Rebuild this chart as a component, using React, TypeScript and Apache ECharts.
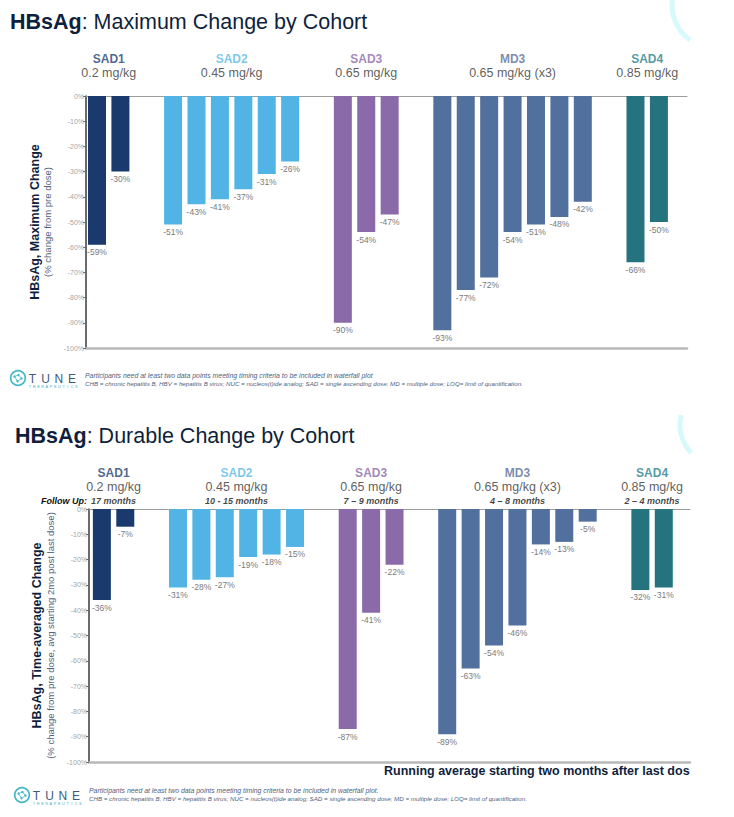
import React, { useEffect, useRef } from 'react';
import * as echarts from 'echarts';

// ---------------- data ----------------
const cohorts = ['SAD1', 'SAD2', 'SAD3', 'MD3', 'SAD4'];
const doses = ['0.2 mg/kg', '0.45 mg/kg', '0.65 mg/kg', '0.65 mg/kg (x3)', '0.85 mg/kg'];
const followUp = ['17 months', '10 - 15 months', '7 – 9 months', '4 – 8 months', '2 – 4 months'];
const barColors = ['#1a3a6e', '#51b4e4', '#8a6aa8', '#52709e', '#24737f'];
const headColors = ['#1d3f74', '#5bbae6', '#8a6aa8', '#5a6f9a', '#27808b'];

const maxChange = [
  [-59, -30],
  [-51, -43, -41, -37, -31, -26],
  [-90, -54, -47],
  [-93, -77, -72, -54, -51, -48, -42],
  [-66, -50],
];
const durableChange = [
  [-36, -7],
  [-31, -28, -27, -19, -18, -15],
  [-87, -41, -22],
  [-89, -63, -54, -46, -14, -13, -5],
  [-32, -31],
];

const titles = [
  ['HBsAg', ': Maximum Change by Cohort'],
  ['HBsAg', ': Durable Change by Cohort'],
];
const yNames = [
  ['HBsAg, Maximum Change', '(% change from pre dose)'],
  ['HBsAg, Time-averaged Change', '(% change from pre dose, avg starting 2mo post last dose)'],
];
const footnotes = [
  [
    'Participants need at least two data points meeting timing criteria to be included in waterfall plot',
    'CHB = chronic hepatitis B, HBV = hepatitis B virus; NUC = nucleos(t)ide analog; SAD = single ascending dose; MD = multiple dose; LOQ= limit of quantification.',
  ],
  [
    'Participants need at least two data points meeting timing criteria to be included in waterfall plot.',
    'CHB = chronic hepatitis B, HBV = hepatitis B virus; NUC = nucleos(t)ide analog; SAD = single ascending dose; MD = multiple dose; LOQ= limit of quantification.',
  ],
];
const runningNote = 'Running average starting two months after last dose';

// ---------------- layout ----------------
const FONT = '"Liberation Sans", Arial, Helvetica, sans-serif';
const NAVY = '#0f1f3d';
const GROUP_STEP = 2.25;

function slotPositions(groups: number[][]): number[][] {
  let pos = 0;
  return groups.map((g) => {
    const xs = g.map((_, i) => pos + i);
    pos += g.length - 1 + GROUP_STEP;
    return xs;
  });
}

const panels = [
  {
    data: maxChange,
    grid: { left: 86, top: 96, width: 601, height: 252 },
    xMin: -0.47,
    xMax: 25.2,
    nameGap: 25,
    lhA: 14,
    lhB: 11,
    headDist: 16,
    withFollow: false,
  },
  {
    data: durableChange,
    grid: { left: 89, top: 509, width: 601, height: 253 },
    xMin: -0.55,
    xMax: 25.12,
    nameGap: 22,
    lhA: 16,
    lhB: 12,
    headDist: 2,
    withFollow: true,
  },
];

function logo(cx: number, cy: number): any[] {
  const teal = '#44b7c7';
  const els: any[] = [
    { type: 'circle', shape: { cx, cy, r: 7.3 }, style: { fill: 'none', stroke: teal, lineWidth: 1.7 } },
    {
      type: 'polyline',
      shape: { points: [[cx - 3.5, cy - 1.5], [cx + 0.5, cy - 3], [cx + 3.5, cy + 0.5], [cx - 0.5, cy + 3.2], [cx - 3.5, cy - 1.5]] },
      style: { fill: 'none', stroke: teal, lineWidth: 0.8 },
    },
    { type: 'circle', shape: { cx: cx - 3.5, cy: cy - 1.5, r: 1.2 }, style: { fill: teal } },
    { type: 'circle', shape: { cx: cx + 0.5, cy: cy - 3, r: 1.2 }, style: { fill: teal } },
    { type: 'circle', shape: { cx: cx + 3.5, cy: cy + 0.5, r: 1.2 }, style: { fill: teal } },
    { type: 'circle', shape: { cx: cx - 0.5, cy: cy + 3.2, r: 1.2 }, style: { fill: teal } },
  ];
  'TUNE'.split('').forEach((ch, i) => {
    els.push({
      type: 'text',
      x: cx + 14.5 + i * 13.2,
      y: cy + 0.5,
      style: { text: ch, fill: '#3f5a76', fontSize: 12, fontFamily: FONT, align: 'center', verticalAlign: 'middle' },
    });
  });
  'THERAPEUTICS'.split('').forEach((ch, i) => {
    els.push({
      type: 'text',
      x: cx + 12 + i * 4.2,
      y: cy + 8.5,
      style: { text: ch, fill: '#3fb0c0', fontSize: 3.8, fontFamily: FONT, align: 'center', verticalAlign: 'middle' },
    });
  });
  return els;
}

function buildOption(): any {
  const grids: any[] = [];
  const xAxes: any[] = [];
  const yAxes: any[] = [];
  const series: any[] = [];

  panels.forEach((p, k) => {
    grids.push({ ...p.grid, containLabel: false });
    const xCommon = {
      gridIndex: k,
      type: 'value',
      min: p.xMin,
      max: p.xMax,
      axisTick: { show: false },
      axisLabel: { show: false },
      splitLine: { show: false },
    };
    xAxes.push({ ...xCommon, position: 'top', axisLine: { show: true, onZero: false, lineStyle: { color: '#9c9c9c', width: 1 } } });
    xAxes.push({ ...xCommon, position: 'bottom', axisLine: { show: true, onZero: false, lineStyle: { color: '#b9b9b9', width: 2.5 } } });
    yAxes.push({
      gridIndex: k,
      type: 'value',
      min: -100,
      max: 0,
      interval: 10,
      axisLine: { show: true, onZero: false, lineStyle: { color: '#3a3a3a', width: 1.5 } },
      axisTick: { show: true, length: 3, lineStyle: { color: '#666' } },
      axisLabel: { fontSize: 7, color: '#a5a5a5', margin: 2, formatter: '{value}%', fontFamily: FONT },
      splitLine: { show: false },
      name: `{a|${yNames[k][0]}}\n{b|${yNames[k][1]}}`,
      nameLocation: 'middle',
      nameRotate: 90,
      nameGap: p.nameGap,
      nameTextStyle: {
        align: 'center',
        rich: {
          a: { fontSize: 12.5, fontWeight: 'bold', color: NAVY, lineHeight: p.lhA, fontFamily: FONT },
          b: { fontSize: 9.5, color: '#52617c', lineHeight: p.lhB, fontFamily: FONT },
        },
      },
    });

    const xs = slotPositions(p.data);
    const barItems: any[] = [];
    p.data.forEach((vals, g) => {
      vals.forEach((v, i) => {
        barItems.push({ value: [xs[g][i], v], itemStyle: { color: barColors[g] } });
      });
    });
    series.push({
      type: 'bar',
      xAxisIndex: 2 * k,
      yAxisIndex: k,
      barWidth: 18,
      data: barItems,
      label: {
        show: true,
        position: 'bottom',
        distance: 3,
        fontSize: 8.5,
        color: '#7b7b7b',
        fontFamily: FONT,
        formatter: (prm: any) => `${prm.value[1]}%`,
      },
    });

    const rich: any = {
      d: { fontSize: 12.5, color: '#333333', lineHeight: 14, fontFamily: FONT },
      f: { fontSize: 9, fontWeight: 'bold', fontStyle: 'italic', color: '#111111', lineHeight: 13, fontFamily: FONT },
    };
    cohorts.forEach((_, g) => {
      rich['c' + g] = { fontSize: 12, fontWeight: 'bold', color: headColors[g], lineHeight: 14, fontFamily: FONT };
    });
    series.push({
      type: 'scatter',
      xAxisIndex: 2 * k,
      yAxisIndex: k,
      symbolSize: 0,
      silent: true,
      itemStyle: { color: 'rgba(0,0,0,0)' },
      data: cohorts.map((c, g) => {
        const center = (xs[g][0] + xs[g][xs[g].length - 1]) / 2;
        let txt = `{c${g}|${c}}\n{d|${doses[g]}}`;
        if (p.withFollow) txt += `\n{f|${followUp[g]}}`;
        return { value: [center, 0], label: { formatter: txt } };
      }),
      label: { show: true, position: 'top', distance: p.headDist, align: 'center', rich },
    });
  });

  const graphic: any[] = [];
  // decorative arcs (slide background)
  graphic.push({
    type: 'arc',
    shape: { cx: 715, cy: 5, r: 43, startAngle: 2.19, endAngle: 4.4, clockwise: true },
    style: { stroke: '#d8f9fb', lineWidth: 5, fill: 'none' },
    silent: true,
  });
  graphic.push({
    type: 'arc',
    shape: { cx: 720, cy: 425, r: 40, startAngle: 2.37, endAngle: 3.39, clockwise: true },
    style: { stroke: '#d8f9fb', lineWidth: 5, fill: 'none' },
    silent: true,
  });
  // titles
  const titlePos = [
    [10, 22],
    [15, 435.5],
  ];
  titles.forEach((t, k) => {
    graphic.push({
      type: 'text',
      x: titlePos[k][0],
      y: titlePos[k][1],
      style: {
        text: `{b|${t[0]}}{r|${t[1]}}`,
        align: 'left',
        verticalAlign: 'middle',
        rich: {
          b: { fontSize: 21.5, fontWeight: 'bold', fill: NAVY, fontFamily: FONT },
          r: { fontSize: 21.5, fill: NAVY, fontFamily: FONT },
        },
      },
    });
  });
  // follow up caption
  graphic.push({
    type: 'text',
    x: 87,
    y: 501,
    style: {
      text: 'Follow Up:',
      fill: '#111',
      fontSize: 9,
      fontWeight: 'bold',
      fontStyle: 'italic',
      fontFamily: FONT,
      align: 'right',
      verticalAlign: 'middle',
    },
  });
  // running average note
  graphic.push({
    type: 'text',
    x: 384,
    y: 771,
    style: { text: runningNote, fill: NAVY, fontSize: 12.5, fontWeight: 'bold', fontFamily: FONT, align: 'left', verticalAlign: 'middle' },
  });
  // slide crop edge (everything right of it is blank in the reference)
  graphic.push({
    type: 'rect',
    shape: { x: 690, y: 760, width: 44, height: 22 },
    style: { fill: '#ffffff' },
    silent: true,
  });
  // footnotes
  const footPos = [
    [85, 375],
    [89, 790],
  ];
  const footSizes = [6.9, 6.2];
  footnotes.forEach((lines, k) => {
    lines.forEach((ln, i) => {
      graphic.push({
        type: 'text',
        x: footPos[k][0],
        y: footPos[k][1] + i * 8,
        style: { text: ln, fill: '#4d5f80', fontSize: footSizes[i], fontStyle: 'italic', fontFamily: FONT, align: 'left', verticalAlign: 'middle' },
      });
    });
  });
  // logos
  graphic.push(...logo(18, 378));
  graphic.push(...logo(22, 795));

  return {
    animation: false,
    backgroundColor: '#ffffff',
    textStyle: { fontFamily: FONT },
    grid: grids,
    xAxis: xAxes,
    yAxis: yAxes,
    series,
    graphic,
  };
}

export default function App() {
  const ref = useRef<HTMLDivElement>(null);
  useEffect(() => {
    document.body.style.margin = '0';
    if (!ref.current) return;
    const chart = echarts.init(ref.current, undefined, { renderer: 'svg' });
    chart.setOption(buildOption());
    return () => chart.dispose();
  }, []);
  return <div ref={ref} style={{ width: 734, height: 817 }} />;
}
